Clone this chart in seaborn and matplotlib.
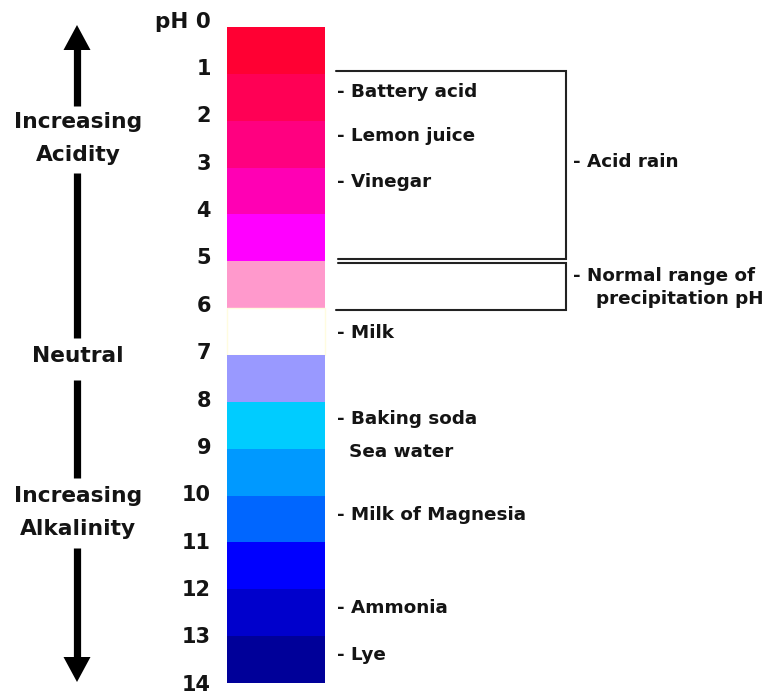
import matplotlib
matplotlib.use("Agg")
import matplotlib.pyplot as plt
import seaborn as sns

# ---- data ----
ph_start = list(range(14))
band_colors = ["#FF0033", "#FF0055", "#FF0080", "#FF00B4", "#FF00FF",
               "#FF99CC", "#FFFFFF", "#9999FF", "#00CCFF", "#0099FF",
               "#0066FF", "#0000FF", "#0000CC", "#000099"]
tick_values = list(range(15))
tick_labels = ["pH 0"] + [str(v) for v in range(1, 15)]
substances = ["- Battery acid", "- Lemon juice", "- Vinegar", "- Milk",
              "- Baking soda", "Sea water", "- Milk of Magnesia",
              "- Ammonia", "- Lye"]
substance_ph = [1.39, 2.33, 3.31, 6.53, 8.37, 9.07, 10.41, 12.40, 13.40]
acid_rain_range = [1.0, 5.0]
normal_precip_range = [5.0, 6.0]

sns.set_theme(style="white")
plt.rcParams["font.family"] = ["DejaVu Sans"]
plt.rcParams["font.weight"] = "bold"

W, H = 766, 694
Y0, UNIT = 27.0, 656.0 / 14.0


def py(y):
    return (y - Y0) / UNIT


fig = plt.figure(figsize=(W / 100, H / 100), dpi=100)
ax = fig.add_axes([0, 0, 1, 1])
ax.set_xlim(0, W)
ax.set_ylim(py(H), py(0))
ax.axis("off")

txt = "#141414"

# colour bar
edges = ["none"] * 14
edges[6] = "#FFFCE0"
ax.bar([276] * 14, [1] * 14, bottom=ph_start, width=98, color=band_colors,
       edgecolor=edges, linewidth=1.0, align="center")

# tick labels (label positions drift slightly relative to band edges)
for v, lab in zip(tick_values, tick_labels):
    off_px = -5.5 + 0.52 * v
    ax.text(211, v + off_px / UNIT, lab, ha="right", va="center",
            fontsize=15 if v else 15.5, fontweight="bold", color=txt)

# substances
for s, p in zip(substances, substance_ph):
    x = 337 if s.startswith("-") else 349
    ax.text(x, p, s, ha="left", va="center", fontsize=13.2,
            fontweight="bold", color=txt)

# brackets
lc = "#222222"
lw = 1.5
a0, a1 = acid_rain_range
n0, n1 = normal_precip_range
ax.plot([336, 566, 566, 338], [a0 - 0.06, a0 - 0.06, a1 - 0.05, a1 - 0.05],
        color=lc, lw=lw, solid_joinstyle="miter")
ax.plot([338, 566, 566, 336], [n0 + 0.04, n0 + 0.04, n1 + 0.05, n1 + 0.05],
        color=lc, lw=lw, solid_joinstyle="miter")
ax.text(573, py(162), "- Acid rain", ha="left", va="center",
        fontsize=13.2, fontweight="bold", color=txt)
ax.text(573, py(276), "- Normal range of", ha="left", va="center",
        fontsize=13.2, fontweight="bold", color=txt)
ax.text(596, py(299), "precipitation pH", ha="left", va="center",
        fontsize=13.2, fontweight="bold", color=txt)

# left arrows and labels
sw = 5.2
ax.plot([77, 77], [py(48), py(106)], color="black", lw=sw, solid_capstyle="butt")
ax.fill([77, 63.5, 90.5], [py(25), py(50), py(50)], color="black", lw=0)
ax.plot([77, 77], [py(173), py(338)], color="black", lw=sw, solid_capstyle="butt")
ax.plot([77, 77], [py(380), py(478)], color="black", lw=sw, solid_capstyle="butt")
ax.plot([77, 77], [py(548), py(660)], color="black", lw=sw, solid_capstyle="butt")
ax.fill([77, 63.5, 90.5], [py(682), py(657), py(657)], color="black", lw=0)

for label, y in [("Increasing", 122), ("Acidity", 155), ("Neutral", 356),
                 ("Increasing", 496), ("Alkalinity", 529)]:
    ax.text(78, py(y), label, ha="center", va="center", fontsize=15.7,
            fontweight="bold", color=txt)

fig.savefig("out.png", dpi=100)
